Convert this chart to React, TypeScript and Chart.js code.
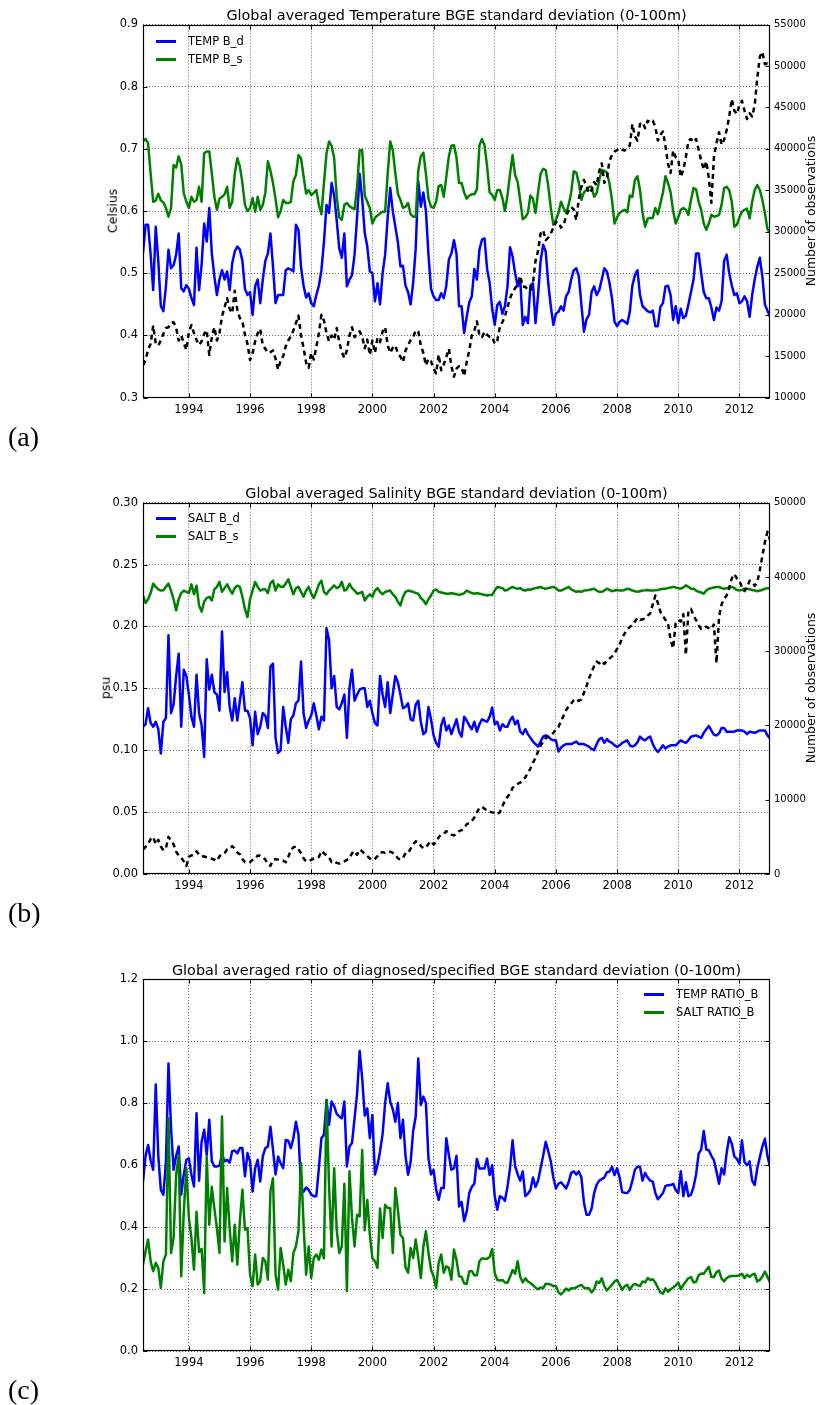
import React, { useEffect, useRef } from "react";
import { Chart, registerables } from "chart.js";

Chart.register(...registerables);
Chart.defaults.font.family = "'DejaVu Sans', sans-serif";

// ---------------- data ----------------
const START_YEAR = 1992.5; // first monthly sample
const END_YEAR = 2013.0;
const YEAR_STEP = 2;

const TEMP_BD = [
  0.532,0.578,0.578,0.53,0.473,0.575,0.52,0.447,0.439,0.479,
  0.538,0.508,0.513,0.53,0.564,0.476,0.471,0.481,0.475,0.46,
  0.449,0.541,0.473,0.514,0.58,0.551,0.605,0.532,0.495,0.465,
  0.49,0.505,0.49,0.503,0.473,0.516,0.535,0.543,0.538,0.52,
  0.475,0.465,0.47,0.433,0.479,0.49,0.452,0.49,0.52,0.532,
  0.564,0.511,0.452,0.465,0.465,0.465,0.505,0.508,0.506,0.503,
  0.578,0.57,0.51,0.48,0.461,0.468,0.452,0.447,0.465,0.48,
  0.505,0.55,0.61,0.597,0.645,0.625,0.585,0.54,0.525,0.564,
  0.479,0.49,0.497,0.53,0.591,0.66,0.62,0.565,0.543,0.503,
  0.5,0.455,0.484,0.45,0.5,0.53,0.59,0.637,0.6,0.575,
  0.55,0.511,0.512,0.48,0.47,0.45,0.485,0.54,0.648,0.607,
  0.63,0.6,0.53,0.475,0.463,0.457,0.457,0.468,0.46,0.48,
  0.522,0.532,0.553,0.532,0.447,
  0.447,0.404,0.43,0.453,0.463,0.507,0.49,0.538,0.554,0.556,
  0.507,0.485,0.443,0.417,0.449,0.454,0.435,0.447,0.479,0.542,
  0.527,0.5,0.479,0.49,0.417,0.43,0.42,0.48,0.484,0.42,
  0.465,0.52,0.546,0.535,0.484,0.447,0.417,0.435,0.438,0.447,
  0.44,0.463,0.47,0.49,0.505,0.508,0.495,0.45,0.406,0.426,
  0.433,0.47,0.479,0.465,0.473,0.49,0.508,0.503,0.485,0.46,
  0.422,0.415,0.422,0.425,0.422,0.419,0.438,0.48,0.497,0.505,
  0.465,0.447,0.443,0.439,0.437,0.44,0.415,0.415,0.446,0.452,
  0.479,0.48,0.465,0.425,0.447,0.42,0.443,0.428,0.432,0.45,
  0.47,0.49,0.532,0.532,0.5,0.47,0.46,0.46,0.445,0.425,
  0.445,0.44,0.455,0.52,0.53,0.5,0.481,0.465,0.468,0.452,
  0.455,0.463,0.455,0.43,0.465,0.49,0.51,0.525,0.495,0.45,
  0.44,0.43,
];

const TEMP_BS = [
  0.712,0.716,0.709,0.66,0.615,0.617,0.628,0.617,0.614,0.605,
  0.591,0.605,0.674,0.67,0.688,0.675,0.629,0.615,0.605,0.623,
  0.615,0.618,0.639,0.615,0.693,0.696,0.696,0.661,0.623,0.602,
  0.62,0.623,0.627,0.639,0.605,0.615,0.66,0.685,0.672,0.645,
  0.61,0.6,0.605,0.621,0.599,0.623,0.602,0.61,0.63,0.68,
  0.665,0.645,0.62,0.59,0.6,0.618,0.613,0.613,0.615,0.648,
  0.658,0.69,0.685,0.656,0.628,0.634,0.626,0.629,0.634,0.61,
  0.595,0.645,0.693,0.712,0.705,0.685,0.623,0.59,0.586,0.61,
  0.613,0.608,0.605,0.603,0.639,0.698,0.698,0.625,0.615,0.605,
  0.58,0.589,0.593,0.596,0.599,0.599,0.66,0.712,0.698,0.661,
  0.628,0.618,0.605,0.607,0.613,0.595,0.591,0.591,0.665,0.688,
  0.694,0.66,0.62,0.607,0.605,0.615,0.64,0.642,0.623,0.655,
  0.688,0.705,0.706,0.686,0.645,
  0.645,0.63,0.62,0.625,0.627,0.627,0.635,0.706,0.716,0.706,
  0.672,0.63,0.626,0.618,0.634,0.634,0.621,0.6,0.625,0.66,
  0.69,0.658,0.647,0.617,0.587,0.59,0.597,0.625,0.62,0.597,
  0.63,0.66,0.668,0.666,0.64,0.605,0.578,0.586,0.597,0.615,
  0.605,0.597,0.61,0.63,0.664,0.662,0.645,0.618,0.63,0.634,
  0.639,0.639,0.623,0.629,0.65,0.666,0.665,0.662,0.645,0.618,
  0.58,0.59,0.597,0.6,0.602,0.598,0.625,0.623,0.65,0.656,
  0.634,0.597,0.575,0.588,0.589,0.589,0.605,0.595,0.612,0.63,
  0.656,0.645,0.63,0.6,0.58,0.59,0.602,0.605,0.602,0.594,
  0.618,0.637,0.635,0.615,0.602,0.58,0.57,0.58,0.594,0.591,
  0.592,0.594,0.61,0.637,0.639,0.634,0.615,0.575,0.578,0.59,
  0.599,0.602,0.604,0.588,0.615,0.634,0.642,0.634,0.618,0.597,
  0.571,0.565,
];

const OBS_T = [
  13940,14500,15800,16500,18700,16500,16300,16900,17700,18400,
  18500,19000,19100,18400,16900,17500,16600,15750,17900,18760,
  17800,16950,16350,16800,17700,18150,15150,17300,18500,16900,
  17800,19800,20900,22000,20700,20200,22900,20600,19600,19200,
  17600,16500,14540,15400,16800,17800,18300,16300,15900,15400,
  15500,15700,14700,13400,14500,15000,16200,16900,17400,18100,
  19000,19900,17500,16000,14200,13600,15400,14600,16100,17800,
  20000,19300,17800,16800,17500,17000,18400,16700,15500,14800,
  15750,17500,18500,17300,17700,18000,17360,15950,17000,15150,
  16900,15400,17200,16700,18000,18500,16300,15400,16000,16300,
  15350,14950,14300,15700,16300,16950,17300,18100,18000,16300,
  15400,13900,14700,14400,13500,12930,15200,13300,14000,14900,
  15900,13800,12530,13500,13800,
  13700,12600,14300,15700,17500,18100,19200,17500,17300,17960,
  17600,17360,17360,16500,16900,18500,19100,19800,20900,22000,
  22700,23200,23800,24700,23390,23390,23000,22980,23790,26500,
  27700,29800,30200,29000,29300,29800,30500,31200,31200,30500,
  30800,31900,32600,33000,32700,31400,34000,35400,36250,35450,
  34640,35040,36000,35600,37300,38260,35900,36500,38500,39300,
  39670,39870,40100,39900,39800,40200,40400,43000,41500,41000,
  43000,43200,42500,43400,43200,43400,42700,41000,41700,42100,
  40300,38200,37100,39800,39000,38700,36600,37500,39000,41000,
  41200,40800,41200,39900,38600,37500,38500,36500,33500,39000,
  40700,42000,40500,41100,42300,43900,46000,44600,44200,45300,
  45800,44600,43600,44300,43900,45300,48500,51100,51700,50200,
  50300,50000,
];

const SALT_BD = [
  0.119,0.121,0.134,0.122,0.119,0.123,0.117,0.0973,0.123,0.126,
  0.193,0.13,0.137,0.16,0.178,0.119,0.165,0.16,0.145,0.127,
  0.119,0.161,0.13,0.12,0.0946,0.1735,0.149,0.161,0.147,0.145,
  0.132,0.196,0.147,0.163,0.135,0.124,0.142,0.124,0.14,0.155,
  0.132,0.132,0.126,0.104,0.131,0.113,0.119,0.13,0.128,0.118,
  0.1676,0.17,0.11,0.0978,0.1,0.135,0.119,0.106,0.125,0.128,
  0.138,0.14,0.1716,0.13,0.118,0.124,0.128,0.138,0.128,0.117,
  0.127,0.124,0.1986,0.189,0.15,0.16,0.135,0.133,0.138,0.145,
  0.11,0.15,0.165,0.14,0.145,0.149,0.15,0.15,0.135,0.14,
  0.13,0.122,0.12,0.16,0.145,0.135,0.155,0.13,0.145,0.16,
  0.155,0.145,0.134,0.135,0.138,0.125,0.124,0.137,0.14,0.123,
  0.113,0.115,0.135,0.125,0.112,0.106,0.1027,0.12,0.126,0.116,
  0.12,0.113,0.119,0.125,0.115,0.111,0.127,0.124,0.12,0.117,
  0.123,0.115,0.121,0.125,0.124,0.123,0.127,0.1346,0.121,0.123,
  0.116,0.121,0.119,0.119,0.124,0.127,0.121,0.124,0.115,0.113,
  0.117,0.113,0.11,0.107,0.105,0.103,0.107,0.111,0.112,0.111,
  0.109,0.108,0.108,0.099,0.102,0.104,0.105,0.105,0.105,0.106,
  0.107,0.105,0.105,0.105,0.104,0.1027,0.101,0.1,0.105,0.109,
  0.11,0.106,0.109,0.107,0.106,0.104,0.1027,0.104,0.106,0.107,
  0.108,0.104,0.103,0.104,0.1065,0.111,0.109,0.108,0.11,0.111,
  0.105,0.101,0.0986,0.101,0.104,0.1014,0.103,0.104,0.104,0.104,
  0.106,0.108,0.1068,0.106,0.108,0.111,0.1115,0.112,0.111,0.11,
  0.114,0.117,0.1195,0.116,0.1125,0.112,0.1135,0.118,0.118,0.115,
  0.115,0.115,0.115,0.116,0.116,0.116,0.115,0.113,0.115,0.1145,
  0.114,0.115,0.116,0.116,0.116,0.112,0.1095,
];

const SALT_BS = [
  0.225,0.219,0.222,0.227,0.2346,0.232,0.23,0.229,0.2292,0.232,
  0.2346,0.229,0.222,0.213,0.222,0.227,0.229,0.228,0.227,0.234,
  0.226,0.233,0.217,0.212,0.22,0.223,0.224,0.221,0.23,0.232,
  0.236,0.228,0.231,0.234,0.23,0.2265,0.231,0.233,0.232,0.224,
  0.214,0.2076,0.222,0.229,0.236,0.232,0.229,0.23,0.23,0.227,
  0.235,0.237,0.229,0.234,0.232,0.232,0.2346,0.238,0.232,0.226,
  0.231,0.232,0.228,0.224,0.229,0.232,0.2265,0.223,0.228,0.234,
  0.237,0.228,0.226,0.229,0.231,0.2332,0.231,0.232,0.236,0.229,
  0.23,0.2345,0.231,0.229,0.2265,0.227,0.228,0.221,0.224,0.226,
  0.224,0.229,0.231,0.228,0.226,0.228,0.2285,0.229,0.226,0.224,
  0.22,0.217,0.224,0.228,0.229,0.2285,0.228,0.227,0.2265,0.223,
  0.221,0.218,0.222,0.225,0.229,0.23,0.228,0.2275,0.227,0.2265,
  0.2265,0.227,0.2265,0.226,0.2255,0.226,0.227,0.229,0.228,0.227,
  0.2265,0.227,0.2265,0.226,0.2255,0.225,0.2255,0.2255,0.229,0.2319,
  0.2315,0.231,0.229,0.2295,0.231,0.2319,0.231,0.2305,0.231,0.2295,
  0.229,0.23,0.2295,0.2305,0.231,0.2315,0.2319,0.231,0.2305,0.231,
  0.2315,0.232,0.231,0.229,0.229,0.23,0.231,0.232,0.23,0.229,
  0.228,0.2285,0.228,0.229,0.2292,0.2295,0.23,0.2305,0.229,0.228,
  0.228,0.229,0.2305,0.2295,0.2285,0.229,0.2295,0.229,0.229,0.2295,
  0.2305,0.23,0.229,0.2285,0.228,0.2285,0.229,0.2292,0.2295,0.229,
  0.229,0.2292,0.2295,0.23,0.2305,0.2305,0.231,0.2315,0.232,0.2315,
  0.231,0.2305,0.2315,0.2332,0.232,0.2305,0.2305,0.229,0.228,0.2275,
  0.2265,0.229,0.2305,0.231,0.2315,0.2319,0.2319,0.231,0.2305,0.231,
  0.2315,0.232,0.231,0.2295,0.229,0.2295,0.2305,0.2305,0.23,0.2295,
  0.229,0.2285,0.229,0.2295,0.2305,0.231,0.2305,
];

const OBS_S = [
  3290,3650,4100,4700,5000,4000,4600,3700,3200,3500,
  5000,4500,4000,3000,2500,2200,1700,1100,2300,2500,
  2600,3060,2600,2400,2350,2250,2160,2050,1940,1750,
  2390,2700,2840,3290,3380,3750,3400,2900,2650,2000,
  1600,1500,1600,1900,2030,2500,2450,2200,1950,1300,
  1100,1900,2000,1940,1900,1800,1580,2300,3200,3600,
  3700,3300,2800,2100,1710,1710,1900,2100,2200,2300,
  3100,2800,2500,2250,1600,1700,1500,1400,1550,1700,
  1900,2100,2800,3100,2600,3290,3060,2700,2400,2100,
  1850,2030,2400,2850,2950,2840,3000,3000,2840,2610,
  2100,1950,2150,2840,2840,3400,4000,4400,4300,3800,
  3450,3600,4050,4410,3960,4300,4950,5320,5400,5770,
  5600,5300,5200,5400,5770,5900,6200,6700,6890,7150,
  7600,8300,8900,9050,8800,8470,8400,8300,8240,8020,
  8330,9100,9900,10400,10800,11600,11900,12150,12300,12700,
  13000,13600,14200,15000,15600,16500,17300,17800,18300,18500,
  18700,19000,19500,19800,20600,21300,22070,22600,22970,23400,
  23600,23300,23500,24400,25300,26350,27200,28000,28600,28380,
  28700,28300,28700,29000,29300,29700,30300,30900,31800,32400,
  32900,33300,33500,34000,34500,34200,34300,34400,34800,35100,
  36300,37500,36500,35300,34800,34200,33700,31500,30400,33800,
  34200,34000,35000,29500,35500,35700,34800,34200,33500,33000,
  33200,33300,33100,33000,33600,28400,34600,36300,37100,37500,
  38500,39800,40400,39800,39500,38600,38100,38600,39500,39300,
  38800,39300,40900,42800,44700,46080,45000,
];

const RATIO_T = [
  0.547,0.63,0.665,0.615,0.585,0.86,0.63,0.52,0.505,0.61,
  0.928,0.72,0.585,0.63,0.66,0.505,0.569,0.617,0.622,0.569,
  0.531,0.767,0.55,0.676,0.714,0.633,0.746,0.612,0.596,0.596,
  0.598,0.635,0.612,0.617,0.608,0.645,0.647,0.638,0.655,0.655,
  0.564,0.639,0.612,0.515,0.59,0.617,0.547,0.628,0.655,0.66,
  0.724,0.65,0.57,0.628,0.606,0.59,0.681,0.679,0.655,0.687,
  0.74,0.698,0.526,0.515,0.528,0.52,0.505,0.5,0.5,0.59,
  0.687,0.698,0.81,0.73,0.805,0.79,0.765,0.757,0.751,0.805,
  0.596,0.66,0.671,0.751,0.83,0.968,0.88,0.76,0.783,0.687,
  0.762,0.57,0.6,0.644,0.7,0.8,0.864,0.805,0.78,0.74,
  0.8,0.687,0.746,0.63,0.569,0.61,0.71,0.757,0.944,0.794,
  0.821,0.8,0.622,0.57,0.585,0.521,0.488,0.526,0.526,0.687,
  0.633,0.585,0.59,0.63,0.467,0.482,0.42,0.45,0.51,0.53,
  0.54,0.62,0.589,0.589,0.589,0.621,0.568,0.6,0.5,0.456,
  0.5,0.495,0.485,0.53,0.59,0.68,0.597,0.57,0.55,0.58,
  0.5,0.508,0.52,0.56,0.53,0.55,0.59,0.63,0.675,0.645,
  0.612,0.56,0.525,0.54,0.545,0.535,0.525,0.545,0.575,0.58,
  0.57,0.58,0.56,0.48,0.44,0.44,0.46,0.51,0.537,0.55,
  0.555,0.56,0.577,0.579,0.595,0.568,0.59,0.56,0.513,0.511,
  0.51,0.52,0.55,0.585,0.595,0.595,0.55,0.575,0.56,0.55,
  0.547,0.51,0.49,0.5,0.51,0.533,0.535,0.536,0.54,0.52,
  0.51,0.58,0.5,0.545,0.5,0.505,0.53,0.57,0.637,0.65,
  0.71,0.65,0.648,0.63,0.616,0.58,0.54,0.59,0.57,0.64,
  0.69,0.67,0.628,0.62,0.605,0.68,0.61,0.6,0.612,0.55,
  0.536,0.59,0.625,0.66,0.685,0.63,0.595,
];

const RATIO_S = [
  0.279,0.322,0.36,0.29,0.258,0.285,0.269,0.204,0.29,0.312,
  0.751,0.317,0.365,0.569,0.633,0.242,0.45,0.59,0.43,0.365,
  0.263,0.45,0.32,0.33,0.188,0.628,0.408,0.53,0.46,0.397,
  0.317,0.757,0.354,0.526,0.397,0.29,0.408,0.279,0.419,0.521,
  0.392,0.397,0.247,0.21,0.312,0.215,0.226,0.301,0.29,0.231,
  0.515,0.558,0.247,0.199,0.333,0.279,0.215,0.263,0.226,0.317,
  0.338,0.387,0.606,0.408,0.247,0.338,0.236,0.301,0.312,0.295,
  0.328,0.3,0.81,0.531,0.338,0.59,0.392,0.317,0.338,0.54,
  0.194,0.58,0.43,0.338,0.44,0.435,0.649,0.39,0.488,0.376,
  0.3,0.29,0.269,0.46,0.365,0.472,0.462,0.462,0.317,0.526,
  0.456,0.376,0.365,0.27,0.253,0.333,0.301,0.36,0.301,0.236,
  0.338,0.387,0.317,0.263,0.242,0.204,0.285,0.312,0.253,0.274,
  0.269,0.231,0.328,0.295,0.242,0.24,0.219,0.217,0.257,0.259,
  0.245,0.245,0.29,0.3,0.298,0.298,0.304,0.33,0.252,0.23,
  0.228,0.23,0.222,0.221,0.24,0.262,0.25,0.29,0.24,0.222,
  0.235,0.225,0.22,0.213,0.205,0.2,0.206,0.203,0.218,0.217,
  0.215,0.21,0.211,0.19,0.183,0.192,0.202,0.196,0.203,0.203,
  0.206,0.211,0.214,0.205,0.203,0.203,0.19,0.2,0.225,0.22,
  0.235,0.21,0.196,0.205,0.214,0.225,0.23,0.215,0.198,0.21,
  0.214,0.198,0.212,0.217,0.213,0.21,0.225,0.222,0.236,0.23,
  0.232,0.222,0.205,0.19,0.186,0.203,0.192,0.2,0.206,0.212,
  0.222,0.2,0.214,0.225,0.236,0.239,0.222,0.224,0.245,0.251,
  0.25,0.262,0.272,0.24,0.239,0.255,0.26,0.234,0.225,0.236,
  0.241,0.243,0.243,0.243,0.245,0.25,0.236,0.247,0.24,0.247,
  0.25,0.225,0.23,0.241,0.257,0.24,0.223,
];

// ---------------- styling ----------------
const W = 818;
const FONT = "'DejaVu Sans', sans-serif";
const BLUE = "#0000ff";
const GREEN = "#008000";
const GRID = "rgba(0,0,0,0.6)";
const AREA_LEFT = 143;
const AREA_RIGHT = 770;

const toPoints = (vals: number[]) =>
  vals.map((v, i) => ({ x: START_YEAR + i / 12, y: v }));

const framePlugin = {
  id: "frame",
  afterDraw(chart: any) {
    const { ctx, chartArea: a, scales } = chart;
    ctx.save();
    ctx.strokeStyle = "#000";
    ctx.lineWidth = 1;
    ctx.setLineDash([]);
    const seg = (x1: number, y1: number, x2: number, y2: number) => {
      ctx.beginPath();
      ctx.moveTo(x1, y1);
      ctx.lineTo(x2, y2);
      ctx.stroke();
    };
    const L = Math.round(a.left) + 0.5;
    const R = Math.round(a.right) - 0.5;
    const T = Math.round(a.top) + 0.5;
    const B = Math.round(a.bottom) - 0.5;
    const TL = 4;
    const sx = scales.x;
    sx.ticks.forEach((t: any) => {
      const px = Math.round(sx.getPixelForValue(t.value)) + 0.5;
      seg(px, B, px, B - TL);
      seg(px, T, px, T + TL);
    });
    const sy = scales.y;
    const hasRight = !!scales.y2;
    sy.ticks.forEach((t: any) => {
      const py = Math.round(sy.getPixelForValue(t.value)) + 0.5;
      seg(L, py, L + TL, py);
      if (!hasRight) seg(R, py, R - TL, py);
    });
    if (hasRight) {
      const s2 = scales.y2;
      s2.ticks.forEach((t: any) => {
        const py = Math.round(s2.getPixelForValue(t.value)) + 0.5;
        seg(R, py, R - TL, py);
      });
    }
    ctx.lineWidth = 1.2;
    ctx.strokeRect(L, T, R - L, B - T);
    ctx.restore();
  },
};

type Series = { data: number[]; color: string; dashed?: boolean; axis: string; order: number };
type Panel = {
  canvasTop: number;
  canvasH: number;
  areaTop: number;
  areaBottom: number;
  yMin: number;
  yMax: number;
  yStep: number;
  yDigits: number;
  y2?: { min: number; max: number; step: number };
  series: Series[];
};

function PanelChart({ p }: { p: Panel }) {
  const ref = useRef<HTMLCanvasElement>(null);
  useEffect(() => {
    if (!ref.current) return;
    const xAxisH = p.canvasH - (p.areaBottom - p.canvasTop);
    const scales: any = {
      x: {
        type: "linear",
        min: START_YEAR,
        max: END_YEAR,
        ticks: {
          stepSize: YEAR_STEP,
          includeBounds: false,
          autoSkip: false,
          maxRotation: 0,
          padding: 5,
          color: "#000",
          font: { size: 11.5, family: FONT },
          callback: (v: any) => String(v),
        },
        grid: { color: GRID, lineWidth: 1, drawTicks: false },
        border: { display: false, dash: [1, 2] },
        afterFit: (s: any) => {
          s.height = xAxisH;
        },
      },
      y: {
        type: "linear",
        position: "left",
        min: p.yMin,
        max: p.yMax,
        ticks: {
          stepSize: p.yStep,
          padding: 5,
          color: "#000",
          font: { size: 11.5, family: FONT },
          callback: (v: any) => Number(v).toFixed(p.yDigits),
        },
        grid: { color: GRID, lineWidth: 1, drawTicks: false },
        border: { display: false, dash: [1, 2] },
        afterFit: (s: any) => {
          s.width = AREA_LEFT;
        },
      },
    };
    if (p.y2) {
      scales.y2 = {
        type: "linear",
        position: "right",
        min: p.y2.min,
        max: p.y2.max,
        ticks: {
          stepSize: p.y2.step,
          padding: 4,
          color: "#000",
          font: { size: 10, family: FONT },
          callback: (v: any) => String(v),
        },
        grid: { display: false, drawTicks: false },
        border: { display: false },
        afterFit: (s: any) => {
          s.width = W - AREA_RIGHT;
        },
      };
    }
    const chart = new Chart(ref.current, {
      type: "line",
      data: {
        datasets: p.series.map((s) => ({
          data: toPoints(s.data),
          borderColor: s.color,
          backgroundColor: s.color,
          borderWidth: 2.5,
          borderDash: s.dashed ? [5, 4] : [],
          borderCapStyle: "butt",
          borderJoinStyle: "round",
          pointRadius: 0,
          tension: 0,
          fill: false,
          yAxisID: s.axis,
          order: s.order,
        })),
      } as any,
      options: {
        animation: false,
        responsive: false,
        maintainAspectRatio: false,
        devicePixelRatio: 1,
        parsing: false as any,
        normalized: true,
        layout: {
          padding: {
            top: p.areaTop - p.canvasTop,
            left: 0,
            bottom: 0,
            right: p.y2 ? 0 : W - AREA_RIGHT,
          },
        },
        plugins: {
          legend: { display: false },
          tooltip: { enabled: false },
          title: { display: false },
        },
        scales,
      } as any,
      plugins: [framePlugin],
    });
    return () => chart.destroy();
  }, []);
  return (
    <canvas
      ref={ref}
      width={W}
      height={p.canvasH}
      style={{ position: "absolute", left: 0, top: p.canvasTop, width: W, height: p.canvasH }}
    />
  );
}

const PANEL_A: Panel = {
  canvasTop: 0,
  canvasH: 430,
  areaTop: 24.5,
  areaBottom: 397.7,
  yMin: 0.3,
  yMax: 0.9,
  yStep: 0.1,
  yDigits: 1,
  y2: { min: 10000, max: 55000, step: 5000 },
  series: [
    { data: TEMP_BD, color: BLUE, axis: "y", order: 3 },
    { data: TEMP_BS, color: GREEN, axis: "y", order: 2 },
    { data: OBS_T, color: "#000", dashed: true, axis: "y2", order: 1 },
  ],
};

const PANEL_B: Panel = {
  canvasTop: 478,
  canvasH: 430,
  areaTop: 502.7,
  areaBottom: 874,
  yMin: 0,
  yMax: 0.3,
  yStep: 0.05,
  yDigits: 2,
  y2: { min: 0, max: 50000, step: 10000 },
  series: [
    { data: SALT_BD, color: BLUE, axis: "y", order: 3 },
    { data: SALT_BS, color: GREEN, axis: "y", order: 2 },
    { data: OBS_S, color: "#000", dashed: true, axis: "y2", order: 1 },
  ],
};

const PANEL_C: Panel = {
  canvasTop: 955,
  canvasH: 430,
  areaTop: 979,
  areaBottom: 1351.3,
  yMin: 0,
  yMax: 1.2,
  yStep: 0.2,
  yDigits: 1,
  series: [
    { data: RATIO_T, color: BLUE, axis: "y", order: 2 },
    { data: RATIO_S, color: GREEN, axis: "y", order: 1 },
  ],
};

const abs = (extra: React.CSSProperties): React.CSSProperties => ({
  position: "absolute",
  whiteSpace: "nowrap",
  lineHeight: 1,
  ...extra,
});

function Title({ text, cy }: { text: string; cy: number }) {
  return (
    <div
      style={abs({
        left: AREA_LEFT,
        width: AREA_RIGHT - AREA_LEFT,
        top: cy - 8,
        height: 16,
        lineHeight: "16px",
        textAlign: "center",
        fontSize: 14.4,
      })}
    >
      {text}
    </div>
  );
}

function VLabel({ text, cx, cy }: { text: string; cx: number; cy: number }) {
  return (
    <div
      style={abs({
        left: cx,
        top: cy,
        fontSize: 12.5,
        transform: "translate(-50%, -50%) rotate(-90deg)",
      })}
    >
      {text}
    </div>
  );
}

function LegendItem({ x, y, color, text }: { x: number; y: number; color: string; text: string }) {
  return (
    <>
      <div style={abs({ left: x, top: y - 1.5, width: 20, height: 3, background: color })} />
      <div style={abs({ left: x + 32, top: y - 7, height: 14, lineHeight: "14px", fontSize: 11.5 })}>{text}</div>
    </>
  );
}

function PanelLabel({ text, cy }: { text: string; cy: number }) {
  return (
    <div
      style={abs({
        left: 8,
        top: cy - 15,
        height: 30,
        lineHeight: "30px",
        fontSize: 28,
        fontFamily: "'Liberation Serif', 'Times New Roman', serif",
      })}
    >
      {text}
    </div>
  );
}

export default function App() {
  return (
    <div
      style={{
        position: "absolute",
        left: 0,
        top: 0,
        width: W,
        height: 1405,
        background: "#fff",
        fontFamily: FONT,
        color: "#000",
        overflow: "hidden",
      }}
    >
      <PanelChart p={PANEL_A} />
      <PanelChart p={PANEL_B} />
      <PanelChart p={PANEL_C} />

      <Title text="Global averaged Temperature BGE standard deviation (0-100m)" cy={15} />
      <Title text="Global averaged Salinity BGE standard deviation (0-100m)" cy={493} />
      <Title text="Global averaged ratio of diagnosed/specified BGE standard deviation (0-100m)" cy={970} />

      <VLabel text="Celsius" cx={113} cy={211} />
      <VLabel text="Number of observations" cx={811} cy={211} />
      <VLabel text="psu" cx={106} cy={688} />
      <VLabel text="Number of observations" cx={811} cy={688} />

      <LegendItem x={156} y={41} color={BLUE} text="TEMP B_d" />
      <LegendItem x={156} y={59} color={GREEN} text="TEMP B_s" />
      <LegendItem x={156} y={518} color={BLUE} text="SALT B_d" />
      <LegendItem x={156} y={536} color={GREEN} text="SALT B_s" />
      <LegendItem x={644} y={994} color={BLUE} text="TEMP RATIO_B" />
      <LegendItem x={644} y={1012} color={GREEN} text="SALT RATIO_B" />

      <PanelLabel text="(a)" cy={437} />
      <PanelLabel text="(b)" cy={913} />
      <PanelLabel text="(c)" cy={1390} />
    </div>
  );
}
